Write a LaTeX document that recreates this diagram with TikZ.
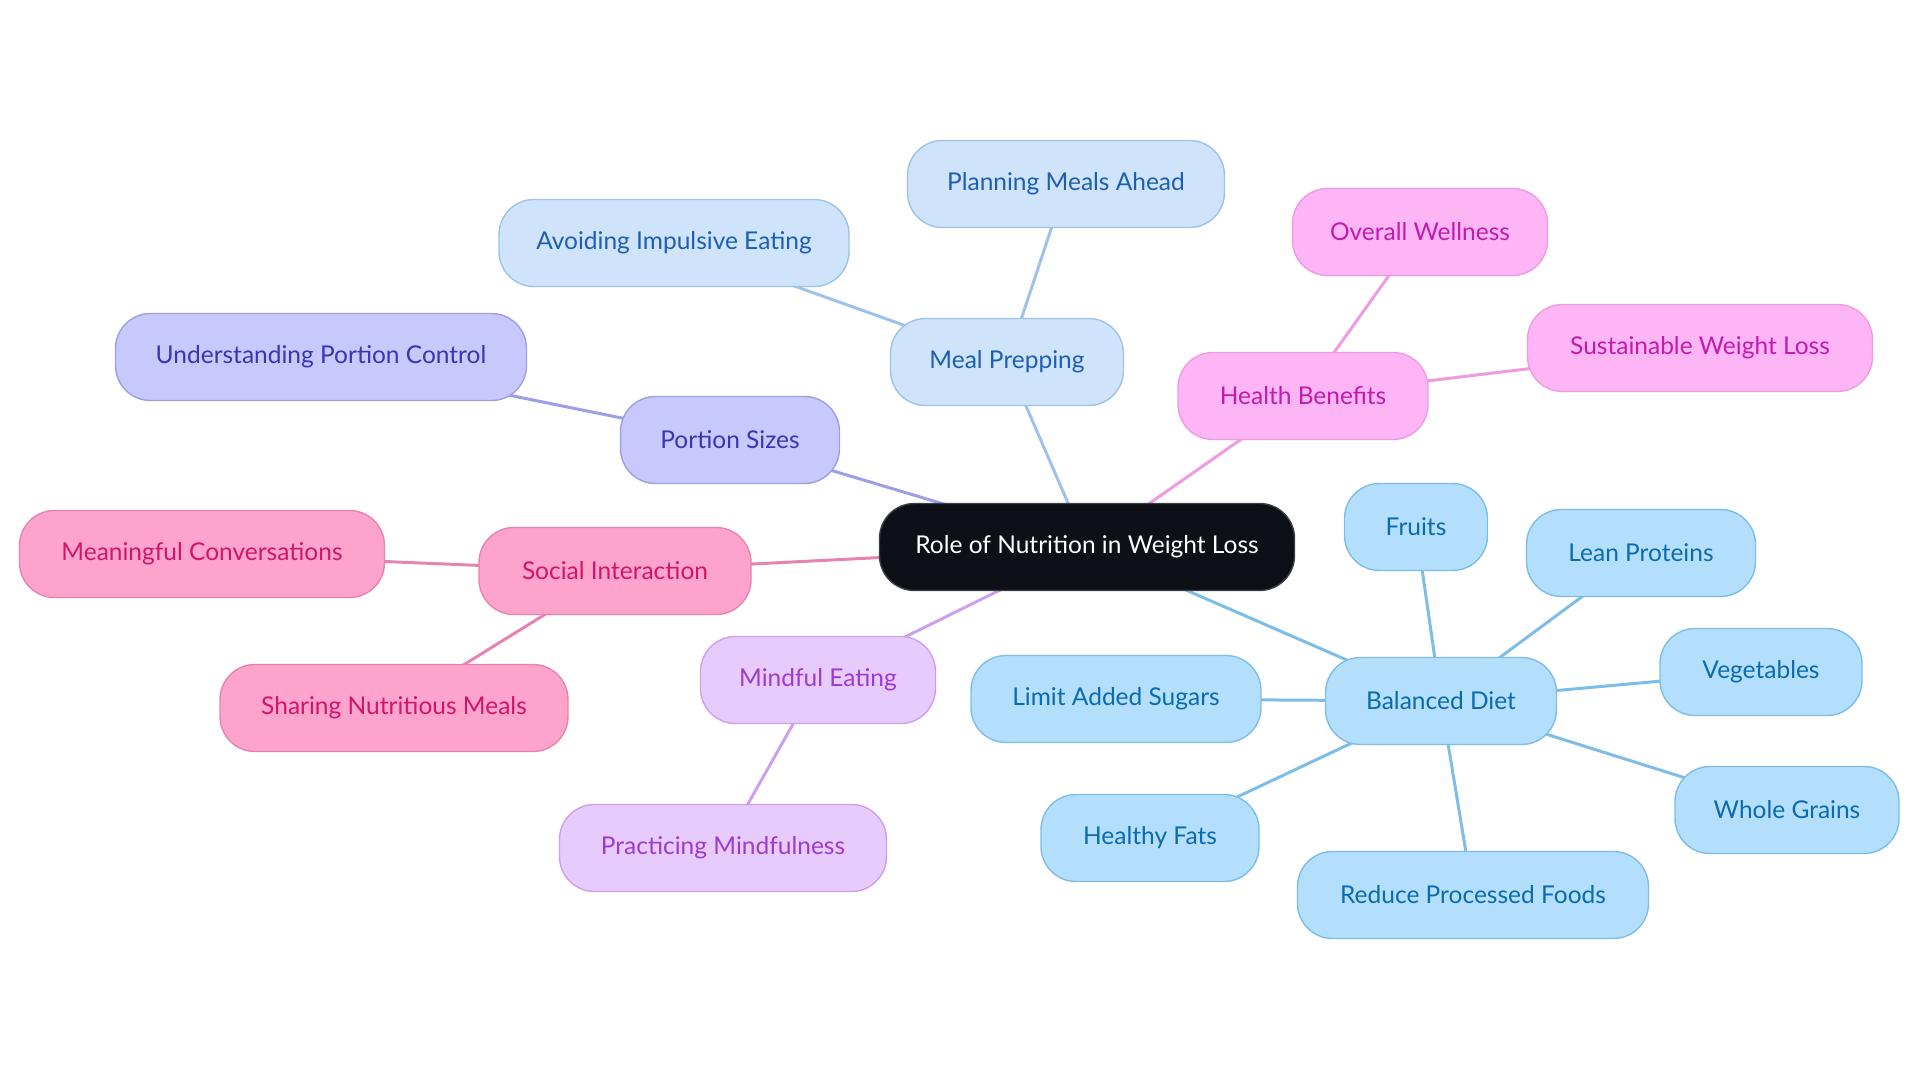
\documentclass[tikz,border=0pt]{standalone}
\usepackage{fontspec}
\setmainfont{Lato}
\usetikzlibrary{backgrounds}

\definecolor{rootfill}{HTML}{0D1117}
\definecolor{rootline}{HTML}{3A3F46}
\definecolor{prepfill}{HTML}{CFE3FB}
\definecolor{prepline}{HTML}{9DC3EC}
\definecolor{preptext}{HTML}{1D5FB0}
\definecolor{dietfill}{HTML}{B3DFFD}
\definecolor{dietline}{HTML}{7DBDE8}
\definecolor{diettext}{HTML}{0B6BAE}
\definecolor{portfill}{HTML}{C7C9FD}
\definecolor{portline}{HTML}{9C9EE8}
\definecolor{porttext}{HTML}{3A35B5}
\definecolor{healfill}{HTML}{FDB5F5}
\definecolor{healline}{HTML}{EE9BE2}
\definecolor{healtext}{HTML}{C21BB0}
\definecolor{socifill}{HTML}{FDA3CC}
\definecolor{sociline}{HTML}{E882B0}
\definecolor{socitext}{HTML}{D0166A}
\definecolor{mindfill}{HTML}{E8CBFD}
\definecolor{mindline}{HTML}{CDA0EC}
\definecolor{mindtext}{HTML}{9B3BD1}

\begin{document}
\begin{tikzpicture}[x=1pt,y=-1pt,
  topic/.style={rounded corners=35pt, minimum height=87pt, inner sep=0pt,
    line width=1.4pt, font=\fontsize{24.5}{29}\selectfont},
  rootbox/.style={topic, fill=rootfill, draw=rootline, text=white},
  prepbox/.style={topic, fill=prepfill, draw=prepline, text=preptext},
  dietbox/.style={topic, fill=dietfill, draw=dietline, text=diettext},
  portbox/.style={topic, fill=portfill, draw=portline, text=porttext},
  healbox/.style={topic, fill=healfill, draw=healline, text=healtext},
  socibox/.style={topic, fill=socifill, draw=sociline, text=socitext},
  mindbox/.style={topic, fill=mindfill, draw=mindline, text=mindtext},
  link/.style={line width=3pt}]
\useasboundingbox (0,0) rectangle (1920,1083);

% centre
\node[rootbox, minimum width=415pt] (root) at (1087,547) {Role of Nutrition in Weight Loss};

% meal prepping
\node[prepbox, minimum width=233pt] (prep) at (1007,362) {Meal Prepping};
\node[prepbox, minimum width=317pt] (plan) at (1066,184) {Planning Meals Ahead};
\node[prepbox, minimum width=350pt] (impulse) at (674,243) {Avoiding Impulsive Eating};

% portion sizes
\node[portbox, minimum width=219pt] (portion) at (730,440) {Portion Sizes};
\node[portbox, minimum width=411pt] (control) at (321,357) {Understanding Portion Control};

% health benefits
\node[healbox, minimum width=250pt] (health) at (1303,396) {Health Benefits};
\node[healbox, minimum width=255pt] (wellness) at (1420,232) {Overall Wellness};
\node[healbox, minimum width=345pt] (sustain) at (1700,348) {Sustainable Weight Loss};

% social interaction
\node[socibox, minimum width=272pt] (social) at (615,571) {Social Interaction};
\node[socibox, minimum width=365pt] (talk) at (202,554) {Meaningful Conversations};
\node[socibox, minimum width=348pt] (share) at (394,708) {Sharing Nutritious Meals};

% mindful eating
\node[mindbox, minimum width=235pt] (mindful) at (818,680) {Mindful Eating};
\node[mindbox, minimum width=327pt] (practice) at (723,848) {Practicing Mindfulness};

% balanced diet
\node[dietbox, minimum width=231pt] (diet) at (1441,701) {Balanced Diet};
\node[dietbox, minimum width=143pt] (fruits) at (1416,527) {Fruits};
\node[dietbox, minimum width=229pt] (lean) at (1641,553) {Lean Proteins};
\node[dietbox, minimum width=202pt] (veg) at (1761,672) {Vegetables};
\node[dietbox, minimum width=224pt] (grains) at (1787,810) {Whole Grains};
\node[dietbox, minimum width=351pt] (processed) at (1473,895) {Reduce Processed Foods};
\node[dietbox, minimum width=218pt] (fats) at (1150,838) {Healthy Fats};
\node[dietbox, minimum width=290pt] (sugars) at (1116,699) {Limit Added Sugars};

\begin{pgfonlayer}{background}
\draw[link, prepline] (root.center) -- (prep.center);
\draw[link, prepline] (prep.center) -- (plan.center);
\draw[link, prepline] (prep.center) -- (impulse.center);
\draw[link, portline] (root.center) -- (portion.center);
\draw[link, portline] (portion.center) -- (control.center);
\draw[link, healline] (root.center) -- (health.center);
\draw[link, healline] (health.center) -- (wellness.center);
\draw[link, healline] (health.center) -- (sustain.center);
\draw[link, sociline] (root.center) -- (social.center);
\draw[link, sociline] (social.center) -- (talk.center);
\draw[link, sociline] (social.center) -- (share.center);
\draw[link, mindline] (root.center) -- (mindful.center);
\draw[link, mindline] (mindful.center) -- (practice.center);
\draw[link, dietline] (root.center) -- (diet.center);
\foreach \leaf in {fruits,lean,veg,grains,processed,fats,sugars}
  \draw[link, dietline] (diet.center) -- (\leaf.center);
\end{pgfonlayer}
\end{tikzpicture}
\end{document}
